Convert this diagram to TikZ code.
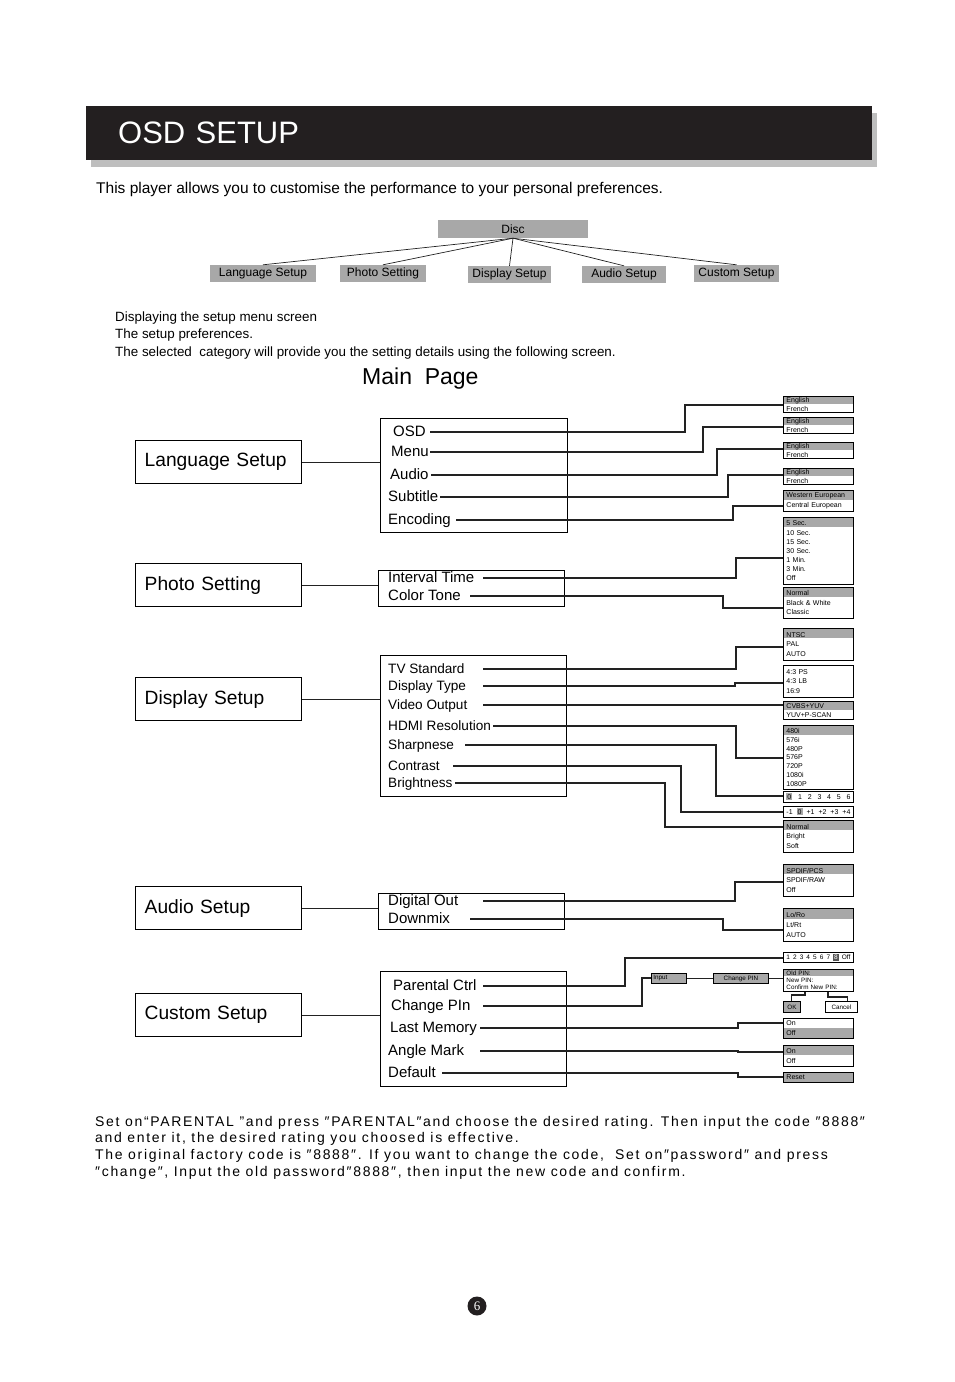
\documentclass[tikz,border=0pt]{standalone}
\usepackage{fontspec}
\setmainfont{Liberation Sans}
\newfontfamily\pagenumfont{Liberation Serif}
\newfontfamily\notefont[LetterSpace=12]{Liberation Sans}
\usetikzlibrary{positioning,calc}
\definecolor{BarBlack}{HTML}{231F20}
\definecolor{BarShadow}{HTML}{BEBEBE}
\definecolor{MenuGray}{HTML}{A8A8A8}
\definecolor{PickGray}{HTML}{555555}
\definecolor{Wire}{HTML}{222222}
\newcommand{\gap}{\hskip 0pt plus 1filll}
\newcommand{\hl}[1]{{\setlength{\fboxsep}{1pt}\colorbox{MenuGray}{#1}}}
\newcommand{\pick}[1]{{\setlength{\fboxsep}{1pt}\colorbox{PickGray}{\textcolor{white}{#1}}}}

\begin{document}
\begin{tikzpicture}[x=1pt, y=-1pt, every node/.style={inner sep=0pt},
  catbox/.style={draw, line width=1.4pt, anchor=north west, text width=148pt, inner xsep=9pt, minimum height=43pt, align=left, font=\fontsize{19.2}{22}\selectfont},
  midbox/.style={draw, line width=1pt, anchor=north west},
  item/.style={anchor=west, text height=10pt, text depth=1pt, font=\fontsize{15}{17}\selectfont},
  ditem/.style={anchor=west, text height=9pt, text depth=1pt, font=\fontsize{13.6}{16}\selectfont},
  treebox/.style={fill=MenuGray, minimum height=17pt, font=\fontsize{12}{14}\selectfont},
  opt/.style={draw, line width=0.9pt, anchor=north west, text width=64pt, inner xsep=3pt, align=left, font=\fontsize{7}{8.5}\selectfont},
  hdr/.style={path picture={\fill[MenuGray] (path picture bounding box.north west) rectangle ([yshift=-#1pt]path picture bounding box.north east);}},
  lowhdr/.style={path picture={\fill[MenuGray] (path picture bounding box.south west) rectangle ([yshift=#1pt]path picture bounding box.south east);}},
  key/.style={fill=MenuGray, draw, line width=0.8pt, anchor=north west, font=\fontsize{6.3}{7}\selectfont},
  wire/.style={draw=Wire, line width=1.1pt}]
  \useasboundingbox (0,0) rectangle (954,1382);

  \fill[BarShadow] (91,113) rectangle (877,167);
  \node[fill=BarBlack, anchor=north west, minimum height=54pt, text width=722pt, inner xsep=32pt, align=left, text=white, font=\fontsize{31}{34}\selectfont] (title) at (86,106) {OSD SETUP};
  \node[anchor=west, font=\fontsize{15.5}{18}\selectfont] (intro) at (96,189) {This player allows you to customise the performance to your personal preferences.};

  \node[treebox, minimum width=150pt, minimum height=18pt] (disc) at (513,229) {Disc};
  \node[treebox, minimum width=106pt] (tlang) at (263,273.5) {Language Setup};
  \node[treebox, minimum width=86pt] (tphoto) at (383,273.5) {Photo Setting};
  \node[treebox, minimum width=83pt] (tdisp) at (509.5,274.5) {Display Setup};
  \node[treebox, minimum width=84pt] (taudio) at (624,274.5) {Audio Setup};
  \node[treebox, minimum width=85pt] (tcustom) at (736.5,273.5) {Custom Setup};
  \foreach \c in {tlang,tphoto,tdisp,taudio,tcustom}
    \draw[draw=Wire, line width=0.7pt] (disc.south) -- (\c.north);

  \node[anchor=west, align=left, font=\fontsize{13.4}{17.5}\selectfont] (steps) at (115,335.5) {Displaying the setup menu screen\\The setup preferences.\\The selected\ \ category will provide you the setting details using the following screen.};
  \node[anchor=west, font=\fontsize{23}{26}\selectfont] (mainpage) at (362,379) {Main\ \ Page};

  \node[catbox] (lang) at (135,440) {Language Setup};
  \node[catbox] (photo) at (135,563) {Photo Setting};
  \node[catbox] (disp) at (135,677) {Display Setup};
  \node[catbox] (audio) at (135,886) {Audio Setup};
  \node[catbox] (custom) at (135,993) {Custom Setup};

  \node[midbox, minimum width=187pt, minimum height=114pt] (langm) at (380,418) {};
  \node[midbox, minimum width=186pt, minimum height=36pt] (photom) at (378,570) {};
  \node[midbox, minimum width=186pt, minimum height=141pt] (dispm) at (380,655) {};
  \node[midbox, minimum width=186pt, minimum height=36pt] (audiom) at (378,893) {};
  \node[midbox, minimum width=186pt, minimum height=115pt] (customm) at (380,971) {};
  \foreach \a/\b in {lang/langm, photo/photom, disp/dispm, audio/audiom, custom/customm}
    \draw[wire] (\a.east) -- (\a.east -| \b.west);

  \node[item] (osd) at (393,432) {OSD};
  \node[item] (menu) at (391,452) {Menu};
  \node[item] (laudio) at (390,475) {Audio};
  \node[item] (subt) at (388,497) {Subtitle};
  \node[item] (enc) at (388,520) {Encoding};
  \node[item] (ivl) at (388,578) {Interval Time};
  \node[item] (tone) at (388,596) {Color Tone};
  \node[ditem] (tvstd) at (388,669) {TV Standard};
  \node[ditem] (dtype) at (388,686) {Display Type};
  \node[ditem] (vout) at (388,705) {Video Output};
  \node[ditem] (hdmi) at (388,726) {HDMI Resolution};
  \node[ditem] (sharp) at (388,745) {Sharpnese};
  \node[ditem] (contr) at (388,766) {Contrast};
  \node[ditem] (bright) at (388,783) {Brightness};
  \node[item] (dig) at (388,901) {Digital Out};
  \node[item] (dmix) at (388,919) {Downmix};
  \node[item] (parent) at (393,986) {Parental Ctrl};
  \node[item] (chg) at (391,1006) {Change PIn};
  \node[item] (lastm) at (390,1028) {Last Memory};
  \node[item] (angle) at (388,1051) {Angle Mark};
  \node[item] (dflt) at (388,1073) {Default};

  \node[opt, hdr=8, minimum height=16pt] (l1) at (783,396) {English\\French};
  \node[opt, hdr=8, minimum height=16pt] (l2) at (783,417) {English\\French};
  \node[opt, hdr=8, minimum height=16pt] (l3) at (783,442) {English\\French};
  \node[opt, hdr=8, minimum height=16pt] (l4) at (783,468) {English\\French};
  \node[opt, hdr=10, minimum height=21pt, font=\fontsize{7}{10}\selectfont] (l5) at (783,490) {Western European\\Central European};
  \node[opt, hdr=10, minimum height=67pt, font=\fontsize{7}{9}\selectfont] (l6) at (783,517) {5 Sec.\\[1pt]10 Sec.\\15 Sec.\\30 Sec.\\1 Min.\\3 Min.\\Off};
  \node[opt, hdr=10, minimum height=31pt, font=\fontsize{7}{9.5}\selectfont] (p2) at (783,587) {Normal\\Black \& White\\Classic};
  \node[opt, hdr=10, minimum height=32pt, font=\fontsize{7}{9.5}\selectfont] (d1) at (783,628) {NTSC\\PAL\\AUTO};
  \node[opt, minimum height=32pt, font=\fontsize{7}{9.5}\selectfont] (d2) at (783,665) {4:3 PS\\4:3 LB\\16:9};
  \node[opt, hdr=9, minimum height=18pt, font=\fontsize{7}{8.5}\selectfont] (d3) at (783,701) {CVBS+YUV\\YUV+P-SCAN};
  \node[opt, hdr=10, minimum height=64pt, font=\fontsize{7}{8.8}\selectfont] (d4) at (783,725) {480i\\576i\\480P\\576P\\720P\\1080i\\1080P};
  \node[opt, minimum height=11pt] (d5) at (783,791) {\hl{0}\gap 1\gap 2\gap 3\gap 4\gap 5\gap 6};
  \node[opt, minimum height=11pt] (d6) at (783,806) {-1\gap\hl{0}\gap +1\gap +2\gap +3\gap +4};
  \node[opt, hdr=10, minimum height=32pt, font=\fontsize{7}{9.5}\selectfont] (d7) at (783,820) {Normal\\Bright\\Soft};
  \node[opt, hdr=10, minimum height=32pt, font=\fontsize{7}{9.5}\selectfont] (a1) at (783,864) {SPDIF/PCS\\SPDIF/RAW\\Off};
  \node[opt, hdr=11, minimum height=33pt, font=\fontsize{7}{10}\selectfont] (a2) at (783,908) {Lo/Ro\\Lt/Rt\\AUTO};
  \node[opt, minimum height=10pt, font=\fontsize{6.5}{7}\selectfont] (c1) at (783,952) {1\gap 2\gap 3\gap 4\gap 5\gap 6\gap 7\gap\pick{8}\gap Off};
  \node[opt, hdr=7, minimum height=22pt, font=\fontsize{6.3}{6.8}\selectfont] (c2) at (783,969) {Old PIN:\\New PIN:\\Confirm New PIN:};
  \node[key, minimum width=17pt, minimum height=11pt] (ok) at (783,1001) {OK};
  \node[key, fill=white, minimum width=32pt, minimum height=11pt] (cancel) at (825,1001) {Cancel};
  \node[opt, lowhdr=10, minimum height=20pt, font=\fontsize{7}{10}\selectfont] (c3) at (783,1018) {On\\Off};
  \node[opt, hdr=10, minimum height=21pt, font=\fontsize{7}{10}\selectfont] (c4) at (783,1045) {On\\Off};
  \node[opt, fill=MenuGray, minimum height=10pt] (c5) at (783,1072) {Reset};
  \node[key, minimum height=10pt, text width=31pt, inner xsep=2pt, align=left] (inpt) at (651,973) {Input};
  \node[key, minimum width=55pt, minimum height=10pt] (chpin) at (713,973) {Change PIN};

  \foreach \s/\x/\ex/\t/\ty in {osd/430/685/l1/405, menu/430/703/l2/427, laudio/431/717/l3/449, subt/440/728/l4/475, enc/456/733/l5/506,
      ivl/483/736/l6/558, tone/470/723/p2/608, tvstd/483/736/d1/647, dtype/483/735/d2/683, vout/483/735/d3/705,
      hdmi/493/736/d4/758, sharp/465/716/d5/796, contr/453/681/d6/812, bright/455/665/d7/827, dig/483/735/a1/882,
      dmix/470/723/a2/930, parent/483/625/c1/958, chg/483/642/inpt/978, lastm/480/738/c3/1023, angle/480/738/c4/1052,
      dflt/442/738/c5/1077}
    \draw[wire] (\x,0 |- \s.west) -| (\ex,\ty) -- (\t.west |- \ex,\ty);
  \draw[wire] (inpt.east) -- (chpin.west);
  \draw[wire] (chpin.east) -- (chpin.east -| c2.west);
  \draw[wire] (c2.south -| 805,0) -- (805,995) -| (ok.north);
  \draw[wire] (c2.south -| 828,0) -- (828,997) -| ([xshift=6pt]cancel.north);

  \node[anchor=west, align=left, font=\notefont\fontsize{14}{16.7}\selectfont] (note) at (95,1147.5) {Set on“PARENTAL\ ”and press ″PARENTAL″and choose the desired rating. Then input the code ″8888″\\and enter it, the desired rating you choosed is effective.\\The original factory code is ″8888″. If you want to change the code,\ \ Set on″password″ and press\\″change″, Input the old password″8888″, then input the new code and confirm.};

  \node[circle, fill=BarBlack, minimum size=19pt, text=white, font=\pagenumfont\fontsize{13}{14}\selectfont] (pnum) at (477,1306) {6};
\end{tikzpicture}
\end{document}
